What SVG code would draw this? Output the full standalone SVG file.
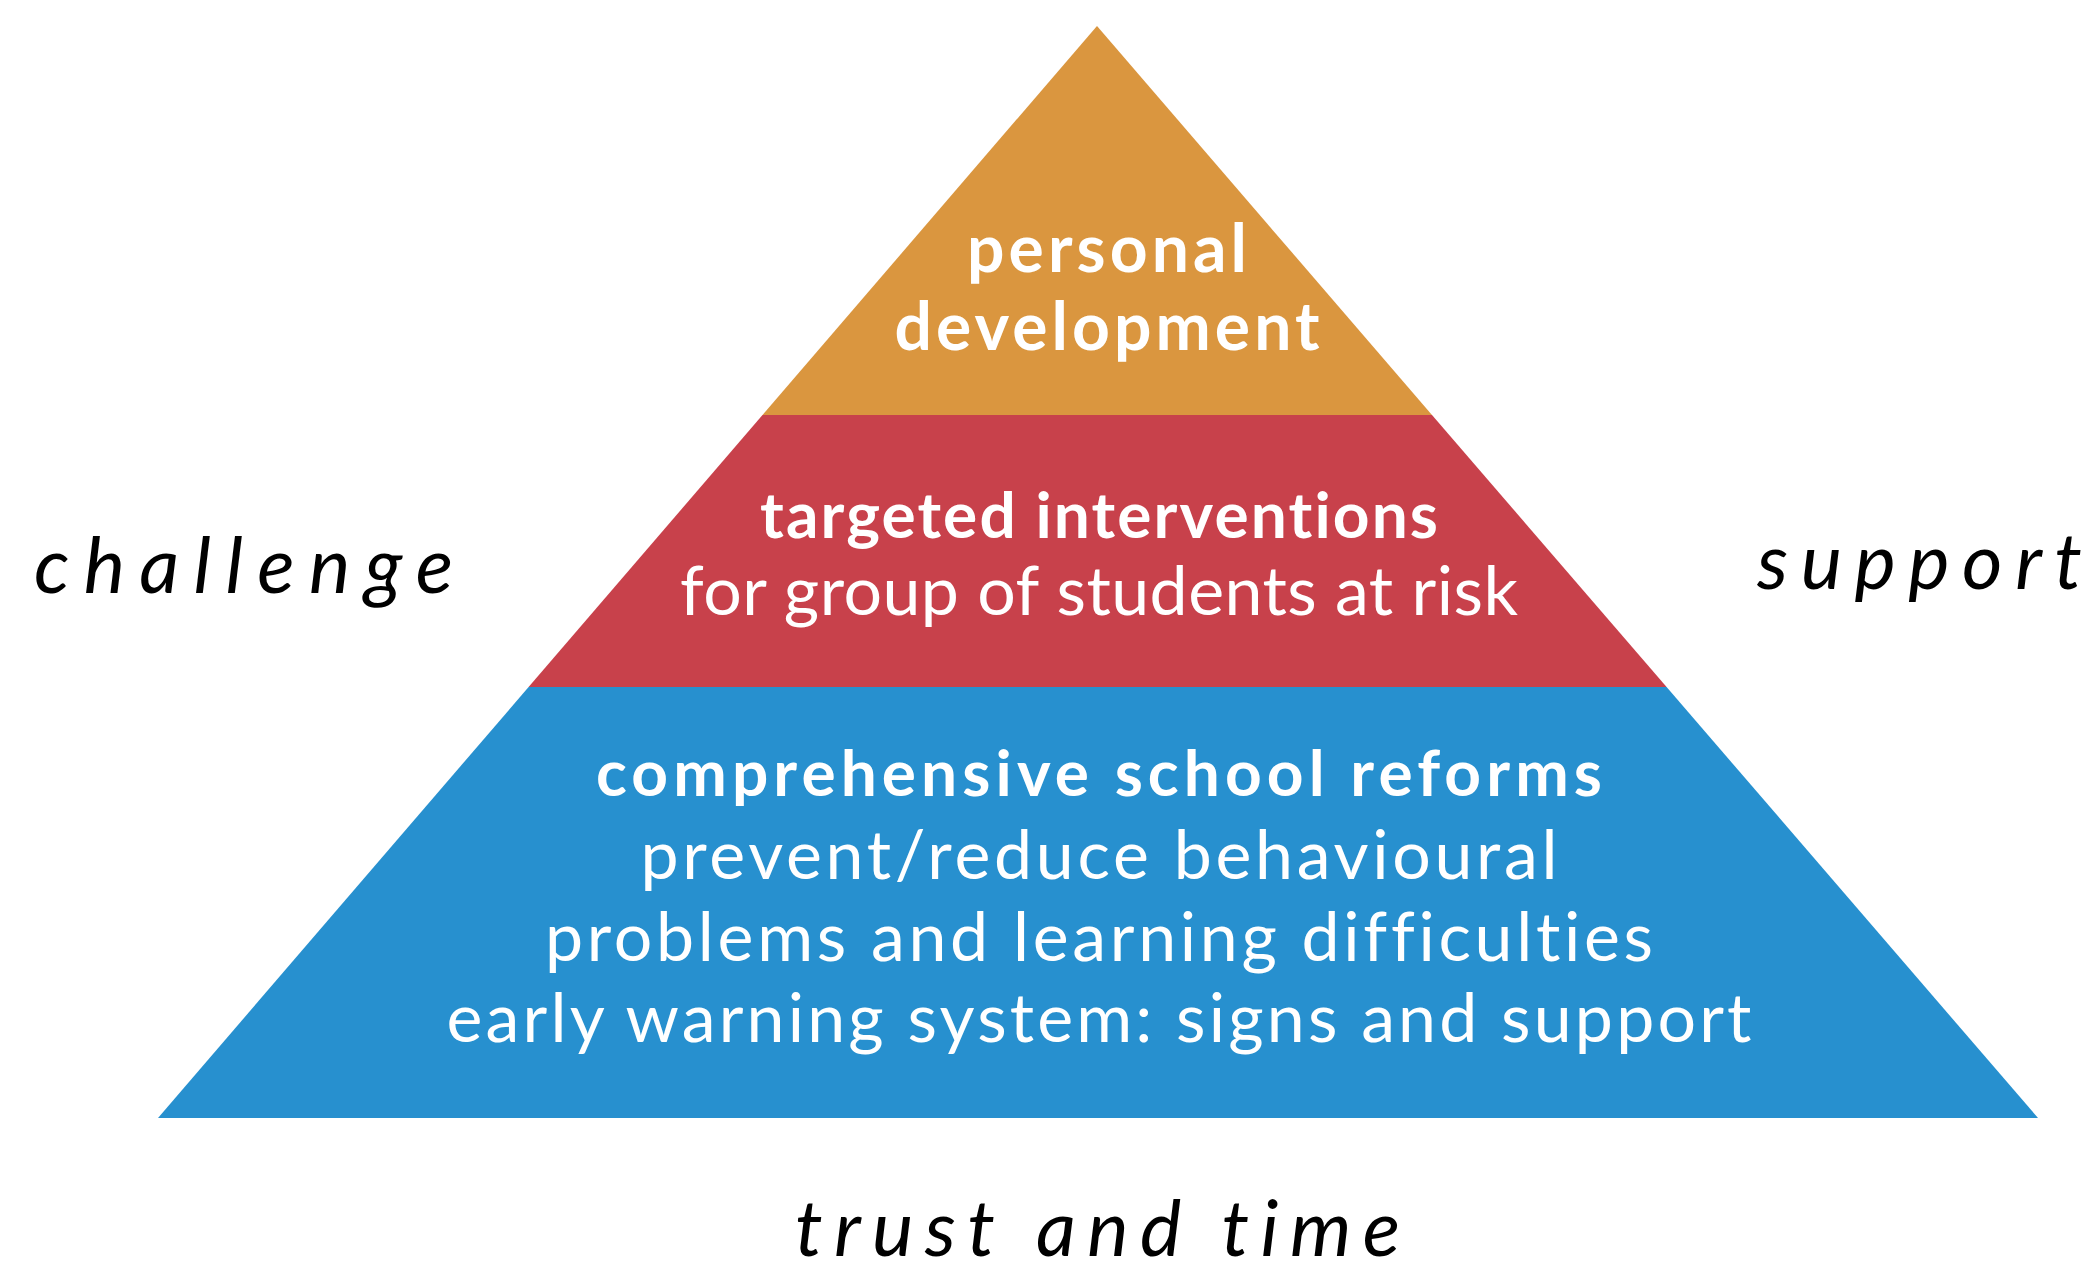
<svg xmlns="http://www.w3.org/2000/svg" width="2098" height="1270" viewBox="0 0 2098 1270">
<style>
.t{font-family:Lato,"Open Sans","Liberation Sans",sans-serif;fill:#ffffff;text-anchor:middle;font-variant-ligatures:none;font-feature-settings:"liga" 0,"clig" 0}
.b{font-weight:bold}
.side{font-family:Lato,"Open Sans","Liberation Sans",sans-serif;font-style:italic;fill:#000000;font-size:78px;font-variant-ligatures:none;font-feature-settings:"liga" 0,"clig" 0}
</style>
<rect width="2098" height="1270" fill="#ffffff"/>
<g id="top">
<polygon points="1097,26 1432,415 762.5,415" fill="#DA963F"/>
<text class="t b" x="1107" y="272" font-size="66" textLength="280" lengthAdjust="spacing">personal</text>
<text class="t b" x="1107" y="350" font-size="66" textLength="425" lengthAdjust="spacing">development</text>
</g>
<g id="middle">
<polygon points="762.5,415 1432,415 1666.6,687 528.6,687" fill="#C8414B"/>
<text class="t b" x="1099" y="538" font-size="64" textLength="678" lengthAdjust="spacing">targeted interventions</text>
<text class="t" x="1099" y="615" font-size="68" textLength="838" lengthAdjust="spacing">for group of students at risk</text>
</g>
<g id="bottom">
<polygon points="528.6,687 1666.6,687 2038,1118 158,1118" fill="#2790CF"/>
<text class="t b" x="1099" y="796" font-size="64" textLength="1006" lengthAdjust="spacing">comprehensive school reforms</text>
<text class="t" x="1099" y="879" font-size="68" textLength="917" lengthAdjust="spacing">prevent/reduce behavioural</text>
<text class="t" x="1099" y="961" font-size="68" textLength="1108" lengthAdjust="spacing">problems and learning difficulties</text>
<text class="t" x="1099" y="1042" font-size="68" textLength="1305" lengthAdjust="spacing">early warning system: signs and support</text>
</g>
<g id="labels">
<text id="challenge" class="side" x="34" y="593" textLength="419" lengthAdjust="spacing">challenge</text>
<text id="support" class="side" x="1757" y="589" textLength="325" lengthAdjust="spacing">support</text>
<text id="trust" class="side" x="795" y="1256" textLength="605" lengthAdjust="spacing">trust and time</text>
</g>
<g id="connectors"/>
</svg>
